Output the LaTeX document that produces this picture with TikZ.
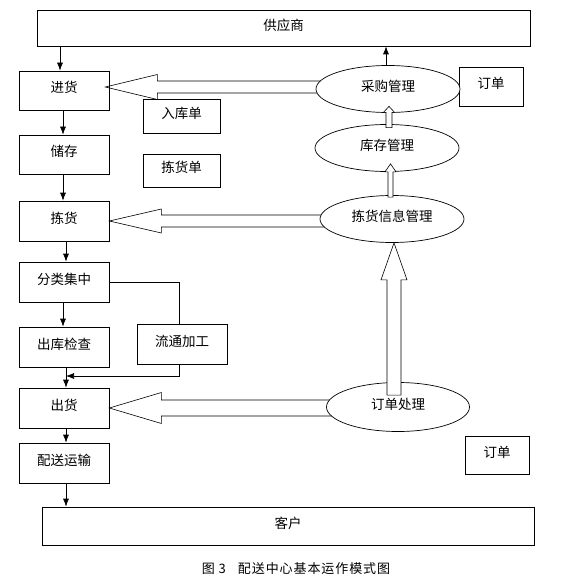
\documentclass[tikz,border=0pt]{standalone}
\usepackage{fontspec}
\setmainfont{Noto Sans CJK SC}
\newfontfamily\titelfont[LetterSpace=7]{Noto Sans CJK SC}
\usetikzlibrary{arrows.meta,calc,shapes.geometric}
\pgfdeclarelayer{hinten}
\pgfsetlayers{hinten,main}

\begin{document}
\begin{tikzpicture}[x=1pt,y=-1pt,>={Latex[length=8pt,width=6pt]},line width=0.7pt,
  kasten/.style={draw,minimum width=90,minimum height=40,inner sep=0pt,text depth=7pt,font=\fontsize{13.5}{16}\selectfont},
  oval/.style={draw,ellipse,fill=white,minimum width=144,minimum height=47,inner sep=0pt,text depth=6pt,font=\fontsize{13.5}{16}\selectfont},
  hohl/.style={draw,fill=white,line width=0.6pt}]
\useasboundingbox (0,0) rectangle (568,580);

%Pfeile breit
\newcommand\breitpfeil[4]{\draw[hohl] (#1) -- ++(52,-#4) -- ++(0,#4-#3) -- ($(#1 -| #2)+(0,-#3)$) -- ($(#1 -| #2)+(0,#3)$) -- ($(#1)+(52,#3)$) -- ++(0,#4-#3) -- cycle;}
\newcommand\hochpfeil[5]{\draw[hohl] (#2) -- ++(#4,#5) -- ++(#3-#4,0) -- ($(#2 |- #1)+(#3,0)$) -- ($(#2 |- #1)+(-#3,0)$) -- ($(#2)+(-#3,#5)$) -- ++(#3-#4,0) -- cycle;}

%Kaesten
\node[kasten,minimum width=493,minimum height=36] (gys) at (283.5,28) {供应商};
\node[kasten,minimum height=39] (jh) at (64,90.5) {进货};
\node[kasten,minimum height=39] (cc) at (64,154.5) {储存};
\node[kasten] (jh2) at (64,221) {拣货};
\node[kasten] (fl) at (64,282) {分类集中};
\node[kasten] (ck) at (64,347) {出库检查};
\node[kasten] (ch) at (64,408) {出货};
\node[kasten] (ps) at (64,463) {配送运输};
\node[kasten,minimum width=492,minimum height=38] (kh) at (288,526) {客户};

%Belege
\node[kasten,minimum width=77,minimum height=34] (rk) at (181.5,116) {入库单};
\node[kasten,minimum width=77,minimum height=33] (jd) at (181.5,170.5) {拣货单};
\node[kasten] (lt) at (182,344) {流通加工};
\node[kasten,minimum width=64,minimum height=39] (dd1) at (491,86.5) {订单};
\node[kasten,minimum width=64,minimum height=38] (dd2) at (497,455) {订单};

%Ellipsen
\node[oval] (cg) at (388,89) {采购管理};
\node[oval] (kc) at (387,148) {库存管理};
\node[oval] (jx) at (392,219) {拣货信息管理};
\node[oval,minimum width=143,minimum height=49] (dd) at (398,407) {订单处理};

%Hilfspunkte
\coordinate (k1) at (60,0);
\coordinate (k2) at (63,0);
\coordinate (k3) at (66,0);
\coordinate (k4) at (386,0);
\coordinate (k5) at (179,0);
\coordinate (m1) at (66,376);

%Verbindungen
\draw[->] (gys.south -| k1) -- (jh.north -| k1);
\draw[->] (jh.south -| k2) -- (cc.north -| k2);
\draw[->] (cc.south -| k2) -- (jh2.north -| k2);
\draw[->] (jh2.south -| k3) -- (fl.north -| k3);
\draw[->] (fl.south -| k2) -- (ck.north -| k2);
\draw[->] (ck.south -| k3) -- (ch.north -| k3);
\draw[->] (ch.south -| k3) -- (ps.north -| k3);
\draw[->] (ps.south -| k3) -- (kh.north -| k3);
\draw[->] (cg.north -| k4) -- (gys.south -| k4);
\draw (fl.east) -- (fl.east -| k5) -- (lt.north -| k5);
\draw[->] (lt.south -| k5) |- (m1);

%Informationsfluss
\coordinate (s1) at ($(jh.east)+(-4,-3.5)$);
\coordinate (s2) at (jh2.east);
\coordinate (s3) at (ch.east);
\begin{pgfonlayer}{hinten}
\breitpfeil{s1}{cg}{6}{12.5}
\breitpfeil{s2}{jx}{6}{12}
\breitpfeil{s3}{dd}{8}{15.5}
\end{pgfonlayer}

\coordinate (a1) at ([yshift=-3.5pt]kc.north);
\coordinate (a2) at ([xshift=1pt,yshift=6.5pt]cg.south);
\coordinate (b1) at ([yshift=-2pt]jx.north);
\coordinate (b2) at ([xshift=3.5pt,yshift=8pt]kc.south);
\coordinate (c1) at ([yshift=-13pt]dd.north);
\coordinate (c2) at ([xshift=2pt]jx.south);
\hochpfeil{a1}{a2}{3}{5.5}{6}
\hochpfeil{b1}{b2}{2.5}{5.5}{8}
\hochpfeil{c1}{c2}{7}{13}{37}

%Bildunterschrift
\node[font=\titelfont\fontsize{13}{15}\selectfont] (titel) at (296,569) {图 3\hspace{12pt}配送中心基本运作模式图};

\end{tikzpicture}
\end{document}
